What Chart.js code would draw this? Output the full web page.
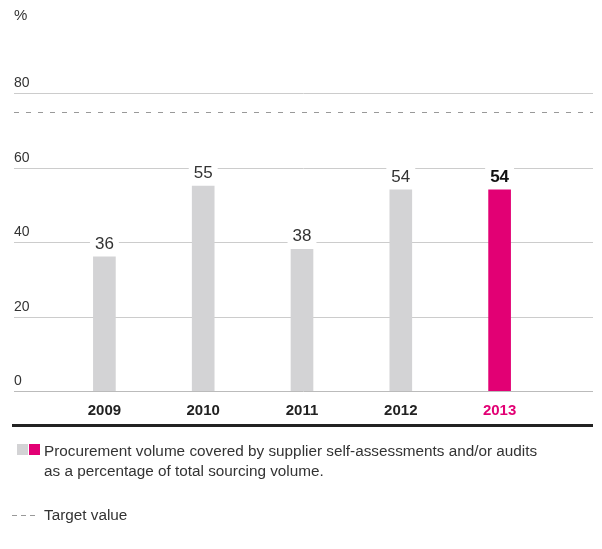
<!DOCTYPE html>
<html>
<head>
<meta charset="utf-8">
<script src="https://cdn.jsdelivr.net/npm/chart.js@4"></script>
<style>
  body { margin: 0; background: #fff; font-family: "Liberation Sans Narrow", "Liberation Sans", sans-serif; color: #333; }
  #wrap { position: relative; width: 602px; height: 549px; }
  #chart { position: absolute; left: 0; top: 0; }
  .unit { position: absolute; left: 14px; top: 6px; font-size: 15px; }
  .rule { position: absolute; left: 12px; top: 424px; width: 581px; height: 3px; background: #222; }
  .leg1 { position: absolute; left: 44px; top: 441px; font-size: 15.3px; line-height: 20px; }
  .sq { position: absolute; top: 444px; width: 11px; height: 11px; }
  .leg2 { position: absolute; left: 44px; top: 505px; font-size: 15.3px; line-height: 20px; }
  .dash { position: absolute; left: 12px; top: 515px; width: 24px; height: 1px;
          background: repeating-linear-gradient(to right, #999 0 5px, transparent 5px 9px); }
</style>
</head>
<body>
<div id="wrap">
  <canvas id="chart" width="602" height="549"></canvas>
  <div class="unit">%</div>
  <div class="rule"></div>
  <div class="sq" style="left:17px;background:#d3d3d5"></div>
  <div class="sq" style="left:29px;background:#e20074"></div>
  <div class="leg1">Procurement volume covered by supplier self-assessments and/or audits<br>as a percentage of total sourcing volume.</div>
  <div class="dash"></div>
  <div class="leg2">Target value</div>
</div>
<script>
const years = ['2009', '2010', '2011', '2012', '2013'];
const coverage = [36, 55, 38, 54, 54];
const yTicks = [0, 20, 40, 60, 80];
const targetValue = 75;

const gray = '#d3d3d5';
const magenta = '#e20074';

// gridlines, tick labels and target line across the full width
const backdrop = {
    id: 'backdrop',
    beforeDatasetsDraw(chart) {
        const c = chart.ctx;
        const y = chart.scales.y;
        c.save();
        c.font = '14px "Liberation Sans Narrow", "Liberation Sans", sans-serif';
        c.textAlign = 'left';
        c.textBaseline = 'bottom';
        yTicks.forEach(v => {
            const py = Math.round(y.getPixelForValue(v)) + 0.5;
            c.strokeStyle = v === 0 ? '#bbb' : '#ccc';
            c.lineWidth = 1;
            c.beginPath();
            c.moveTo(14, py);
            c.lineTo(593, py);
            c.stroke();
            c.fillStyle = '#333';
            c.fillText(String(v), 14, py - 3);
        });
        const ty = Math.round(y.getPixelForValue(targetValue)) + 0.5;
        c.strokeStyle = '#999';
        c.setLineDash([5, 7]);
        c.beginPath();
        c.moveTo(14, ty);
        c.lineTo(593, ty);
        c.stroke();
        c.restore();
    },
    afterDatasetsDraw(chart) {
        const c = chart.ctx;
        const meta = chart.getDatasetMeta(0);
        c.save();
        c.textAlign = 'center';
        c.textBaseline = 'middle';
        meta.data.forEach((bar, i) => {
            const last = i === coverage.length - 1;
            c.font = (last ? 'bold ' : '') + '17px "Liberation Sans Narrow", "Liberation Sans", sans-serif';
            const txt = String(coverage[i]);
            const w = c.measureText(txt).width + 10;
            const cy = bar.y - 13;
            c.fillStyle = '#fff';
            c.fillRect(bar.x - w / 2, cy - 10, w, 20);
            c.fillStyle = last ? '#111' : '#333';
            c.fillText(txt, bar.x, cy);
        });
        c.restore();
    }
};

new Chart(document.getElementById('chart'), {
    type: 'bar',
    data: {
        labels: years,
        datasets: [{
            label: 'Coverage',
            data: coverage,
            backgroundColor: years.map((y, i) => i === years.length - 1 ? magenta : gray),
            barThickness: 22,
            borderWidth: 0
        }]
    },
    options: {
        responsive: false,
        animation: false,
        layout: { padding: { left: 55, right: 53, top: 93, bottom: 118 } },
        plugins: { legend: { display: false }, tooltip: { enabled: false } },
        scales: {
            x: {
                grid: { display: false, drawTicks: false },
                border: { display: false },
                ticks: {
                    padding: 11,
                    color: (ctx) => ctx.index === years.length - 1 ? magenta : '#222',
                    font: { family: '"Liberation Sans Narrow", "Liberation Sans", sans-serif', size: 15, weight: 'bold' }
                }
            },
            y: {
                display: false,
                min: 0,
                max: 80
            }
        }
    },
    plugins: [backdrop]
});
</script>
</body>
</html>
